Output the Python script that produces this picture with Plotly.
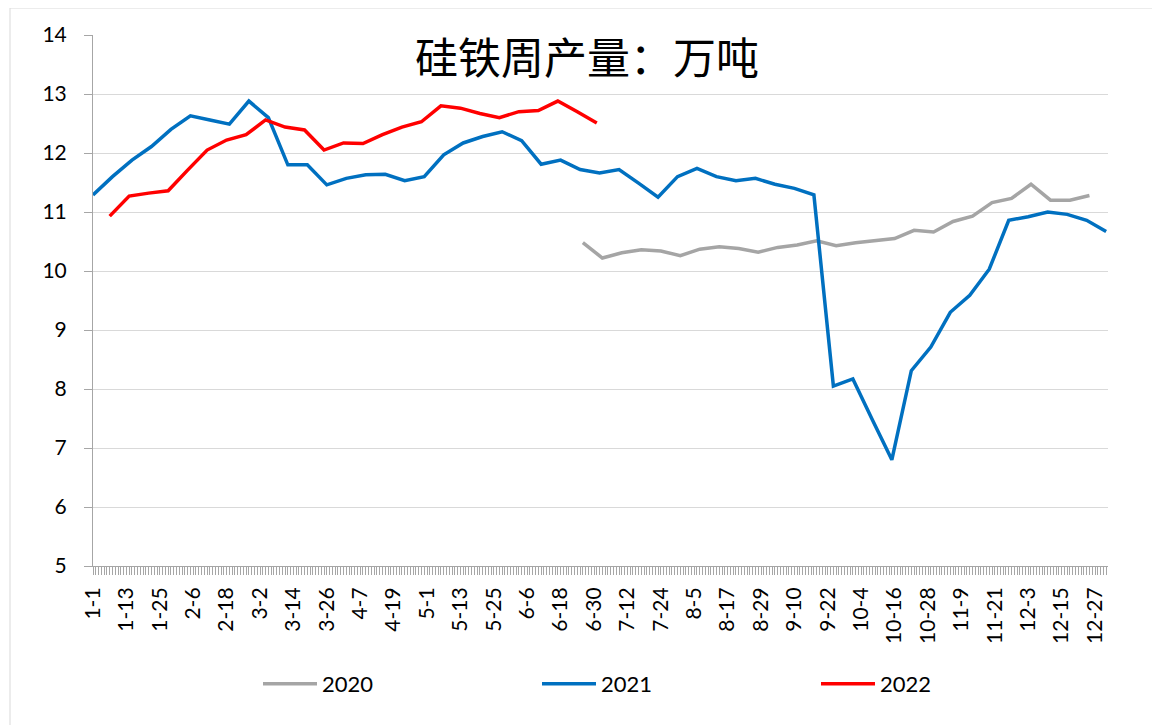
import plotly.graph_objects as go

# ---- data (week dates as month-day labels, values in 万吨) ----
dates_2020 = ["6-26", "7-3", "7-10", "7-17", "7-24", "7-31", "8-7", "8-14", "8-21",
              "8-28", "9-4", "9-11", "9-18", "9-25", "10-2", "10-9", "10-16", "10-23",
              "10-30", "11-6", "11-13", "11-20", "11-27", "12-4", "12-11", "12-18", "12-25"]
vals_2020 = [10.48, 10.22, 10.31, 10.36, 10.34, 10.26, 10.37, 10.41, 10.38,
             10.32, 10.40, 10.44, 10.51, 10.43, 10.48, 10.52, 10.55, 10.69,
             10.66, 10.84, 10.93, 11.16, 11.23, 11.47, 11.20, 11.20, 11.28]

dates_2021 = ["1-1", "1-8", "1-15", "1-22", "1-29", "2-5", "2-12", "2-19", "2-26",
              "3-5", "3-12", "3-19", "3-26", "4-2", "4-9", "4-16", "4-23", "4-30",
              "5-7", "5-14", "5-21", "5-28", "6-4", "6-11", "6-18", "6-25", "7-2",
              "7-9", "7-16", "7-23", "7-30", "8-6", "8-13", "8-20", "8-27", "9-3",
              "9-10", "9-17", "9-24", "10-1", "10-8", "10-15", "10-22", "10-29",
              "11-5", "11-12", "11-19", "11-26", "12-3", "12-10", "12-17", "12-24", "12-31"]
vals_2021 = [11.29, 11.60, 11.88, 12.11, 12.40, 12.63, 12.56, 12.49, 12.88,
             12.60, 11.80, 11.80, 11.46, 11.57, 11.63, 11.64, 11.53, 11.60,
             11.97, 12.17, 12.28, 12.36, 12.21, 11.81, 11.88, 11.72, 11.66,
             11.72, 11.49, 11.25, 11.60, 11.74, 11.60, 11.53, 11.57, 11.47,
             11.40, 11.29, 8.05, 8.17, 7.48, 6.80, 8.31, 8.71,
             9.30, 9.59, 10.03, 10.86, 10.92, 11.00, 10.96, 10.86, 10.67]

dates_2022 = ["1-7", "1-14", "1-21", "1-28", "2-4", "2-11", "2-18", "2-25", "3-4",
              "3-11", "3-18", "3-25", "4-1", "4-8", "4-15", "4-22", "4-29", "5-6",
              "5-13", "5-20", "5-27", "6-3", "6-10", "6-17", "6-24", "7-1"]
vals_2022 = [10.93, 11.27, 11.32, 11.36, 11.71, 12.05, 12.22, 12.31, 12.56,
             12.44, 12.39, 12.05, 12.17, 12.16, 12.31, 12.44, 12.53, 12.80,
             12.76, 12.67, 12.60, 12.70, 12.72, 12.88, 12.70, 12.51]

series = [("2020", dates_2020, vals_2020, "#A5A5A5"),
          ("2021", dates_2021, vals_2021, "#0070C0"),
          ("2022", dates_2022, vals_2022, "#FF0000")]

title_text = "硅铁周产量：万吨"


def to_axis_date(md):
    m, d = md.split("-")
    return f"2021-{int(m):02d}-{int(d):02d}"


fig = go.Figure()
for name, dts, vals, color in series:
    fig.add_trace(go.Scatter(
        x=[to_axis_date(s) for s in dts], y=vals, name=name, mode="lines",
        line=dict(color=color, width=3.5), connectgaps=True))

DAY = 86400000
font_main = "Lato, 'Open Sans', sans-serif"

fig.update_layout(
    width=1152, height=717,
    margin=dict(l=85, r=52, t=27, b=159),
    paper_bgcolor="white", plot_bgcolor="white",
    font=dict(family=font_main, color="black"),
    showlegend=True,
    legend=dict(orientation="h", x=(258 - 93) / 1015, xanchor="left",
                y=-0.222, yanchor="middle",
                font=dict(size=22, family=font_main), entrywidth=210,
                entrywidthmode="pixels", itemwidth=54, traceorder="normal"),
    xaxis=dict(
        type="date", range=["2021-01-01", "2021-12-31 16:00"],
        tick0="2021-01-01", dtick=12 * DAY, tickformat="%-m-%-d", tickangle=-90,
        tickfont=dict(size=21, family=font_main), ticklabelstandoff=4,
        showgrid=False, showline=True, linecolor="#A6A6A6", linewidth=1,
        ticks="outside", ticklen=8, tickcolor="#A6A6A6",
        minor=dict(dtick=DAY, tick0="2021-01-01", ticks="outside", ticklen=8,
                   tickcolor="#A6A6A6", showgrid=False),
        zeroline=False),
    yaxis=dict(
        range=[5, 14], dtick=1, tickfont=dict(size=21, family=font_main),
        showgrid=True, gridcolor="#D9D9D9", gridwidth=1,
        showline=True, linecolor="#A6A6A6", linewidth=1,
        ticks="outside", ticklen=8, tickcolor="#A6A6A6", ticklabelstandoff=13,
        zeroline=False),
    annotations=[dict(text=title_text, xref="paper", yref="paper",
                      x=(587 - 93) / 1015, y=(566 - 55) / 531,
                      xanchor="center", yanchor="middle", showarrow=False,
                      font=dict(size=43, family="'Noto Sans CJK SC'", color="black"))],
    shapes=[dict(type="rect", xref="paper", yref="paper",
                 x0=(10 - 93) / 1015, x1=(1175 - 93) / 1015,
                 y0=(566 - 740) / 531, y1=(566 - 8) / 531,
                 line=dict(color="#D9D9D9", width=1), fillcolor="rgba(0,0,0,0)",
                 layer="below")],
)

fig.write_html("out.html")
